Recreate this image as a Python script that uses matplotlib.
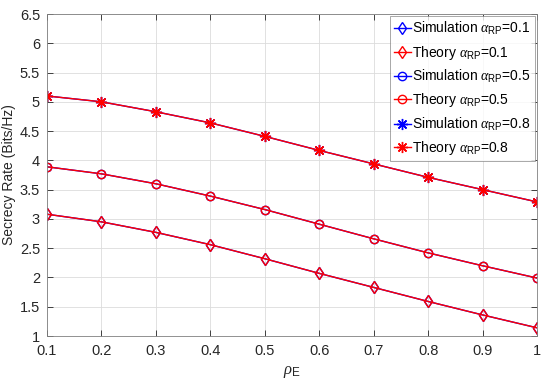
import matplotlib
matplotlib.use("Agg")
import matplotlib.pyplot as plt
import numpy as np

plt.rcParams['font.family'] = ['Liberation Sans', 'DejaVu Sans']
plt.rcParams['mathtext.fontset'] = 'custom'
plt.rcParams['mathtext.rm'] = 'Liberation Sans'
plt.rcParams['mathtext.it'] = 'Liberation Serif:italic'
plt.rcParams['mathtext.sf'] = 'Liberation Sans'

rho_E = [0.1, 0.2, 0.3, 0.4, 0.5, 0.6, 0.7, 0.8, 0.9, 1.0]
rate_a01 = [3.08, 2.95, 2.77, 2.56, 2.32, 2.07, 1.83, 1.59, 1.36, 1.14]
rate_a05 = [3.89, 3.77, 3.60, 3.39, 3.16, 2.91, 2.66, 2.42, 2.20, 1.99]
rate_a08 = [5.10, 5.00, 4.83, 4.64, 4.41, 4.17, 3.94, 3.71, 3.50, 3.29]

alphas = ['0.1', '0.5', '0.8']
markers = ['d', 'o', (8, 2, 0)]
series = [rate_a01, rate_a05, rate_a08]

fig = plt.figure(figsize=(5.5, 3.87), dpi=100)
ax = fig.add_axes([47/550, 1-336/387, 490/550, 322/387])

axcol = '#262626'
for i, (a, m, y) in enumerate(zip(alphas, markers, series)):
    ms = 8 if i == 2 else 6
    ax.plot(rho_E, y, color='blue', marker=m, markersize=ms, markerfacecolor='none',
            markeredgecolor='blue', linewidth=1.0, markeredgewidth=1.0,
            label=r'Simulation $\alpha_{\mathrm{RP}}$=' + a)
    ax.plot(rho_E, y, color='red', marker=m, markersize=ms, markerfacecolor='none',
            markeredgecolor='red', linewidth=1.0, markeredgewidth=1.0,
            label=r'Theory $\alpha_{\mathrm{RP}}$=' + a)

ax.set_xlim(0.1, 1.0)
ax.set_ylim(1, 6.5)
ax.set_xticks(np.round(np.arange(0.1, 1.01, 0.1), 1))
ax.set_xticklabels(['0.1', '0.2', '0.3', '0.4', '0.5', '0.6', '0.7', '0.8', '0.9', '1'])
ax.set_yticks(np.arange(1, 6.51, 0.5))
ax.set_yticklabels(['1', '1.5', '2', '2.5', '3', '3.5', '4', '4.5', '5', '5.5', '6', '6.5'])
ax.grid(True, color='#dcdcdc', linewidth=0.6)
ax.set_axisbelow(True)
ax.tick_params(direction='in', top=True, right=True, labelsize=10.5, colors=axcol,
               length=4, width=0.6)
ax.tick_params(axis='x', pad=6)
ax.tick_params(axis='y', pad=5)
for s in ax.spines.values():
    s.set_color('#808080')
    s.set_linewidth(0.6)

ax.set_xlabel(r'$\rho_{\mathrm{E}}$', fontsize=12, color=axcol, labelpad=4)
ax.set_ylabel('Secrecy Rate (Bits/Hz)', fontsize=10, color=axcol, labelpad=3)

leg = ax.legend(loc='upper right', fontsize=10, frameon=True, fancybox=False,
                edgecolor='#808080', handlelength=1.2, handletextpad=0.1,
                borderpad=0.3, labelspacing=0.45, borderaxespad=0.15)
leg.get_frame().set_linewidth(0.6)

fig.savefig('out.png', dpi=100)
